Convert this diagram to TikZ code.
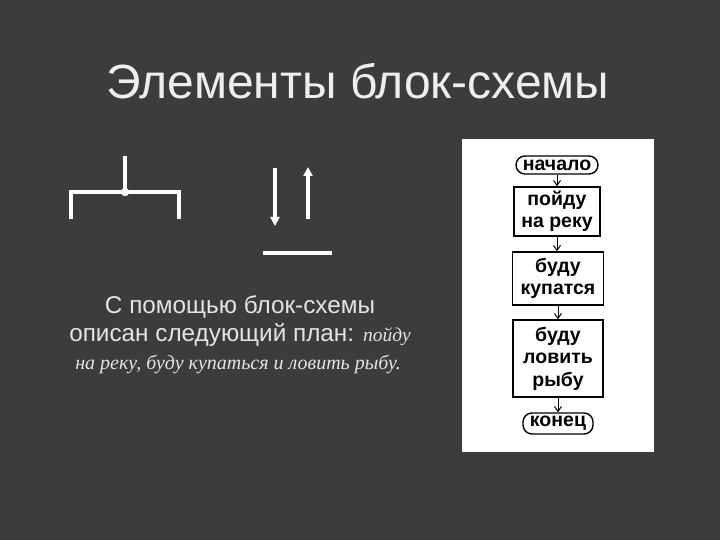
\documentclass[tikz,border=0pt]{standalone}
\usepackage{fontspec}
\setmainfont{Liberation Sans}
\newfontfamily\serifit{Liberation Serif}
\usetikzlibrary{arrows.meta}
\definecolor{bg}{HTML}{3C3C3C}
\definecolor{fg}{HTML}{EEEEEE}
\definecolor{txt}{HTML}{E4E4E4}
\tikzset{
  wline/.style={draw=white, line width=3.6},
  fbox/.style={draw=black, line width=1.4, fill=white, inner sep=0, align=center,
    font=\fontsize{19.5}{22.5}\selectfont\bfseries},
  fterm/.style={fbox, rounded corners=9},
  farrow/.style={draw=black, line width=1, -{Straight Barb[length=5,width=7]}},
  body/.style={text=txt, inner sep=0, anchor=base, font=\fontsize{24.3}{28}\selectfont}
}
\begin{document}
\begin{tikzpicture}[x=1pt,y=-1pt]
\useasboundingbox (0,0) rectangle (720,540);
\fill[bg] (0,0) rectangle (720,540);
% title
\node[anchor=base, inner sep=0, text=fg, font=\fontsize{48}{52}\selectfont] (title) at (358,99) {Элементы блок-схемы};
% fork symbol
\coordinate (ftop) at (125,156);
\coordinate (fj) at (125,192);
\coordinate (fl) at (71,192);
\coordinate (fr) at (179,192);
\coordinate (flb) at (71,219);
\coordinate (frb) at (179,219);
\draw[wline] (ftop) -- (fj);
\draw[wline] (flb) -- (fl) -- (fr) -- (frb);
\fill[white] (fj) circle (4.2);
% arrows
\coordinate (da1) at (275,168);
\coordinate (da2) at (275,226);
\coordinate (ua1) at (308,219);
\coordinate (ua2) at (308,167);
\draw[wline, -{Triangle[length=9,width=9]}] (da1) -- (da2);
\draw[wline, -{Triangle[length=9,width=9]}] (ua1) -- (ua2);
\coordinate (hl1) at (263,253);
\coordinate (hl2) at (332,253);
\draw[wline] (hl1) -- (hl2);
% body text
\node[body] (t1) at (240,313) {С помощью блок-схемы};
\node[body] (t2) at (240,341) {описан следующий план: {\serifit\itshape\fontsize{19.5}{24}\selectfont пойду}};
\node[body, font=\serifit\itshape\fontsize{20}{24}\selectfont] (t3) at (238,369) {на реку, буду купаться и ловить рыбу.};
% panel
\fill[white] (462,139) rectangle (654,452);
% flowchart
\node[fterm, minimum width=82, minimum height=18] (s) at (557,165) {начало};
\node[fbox, minimum width=86, minimum height=49] (b1) at (557,211.5) {пойду\\на реку};
\node[fbox, minimum width=91, minimum height=53] (b2) at (558,278.5) {буду\\купатся};
\node[fbox, minimum width=90, minimum height=77] (b3) at (558,358.5) {буду\\ловить\\рыбу};
\node[fterm, minimum width=70, minimum height=21] (e) at (558,423.5) {конец};
\draw[farrow] (s.south) -- (s.south |- b1.north);
\draw[farrow] (b1.south) -- (b1.south |- b2.north);
\draw[farrow] (b2.south) -- (b2.south |- b3.north);
\draw[farrow] (b3.south) -- (b3.south |- e.north);
\end{tikzpicture}
\end{document}
